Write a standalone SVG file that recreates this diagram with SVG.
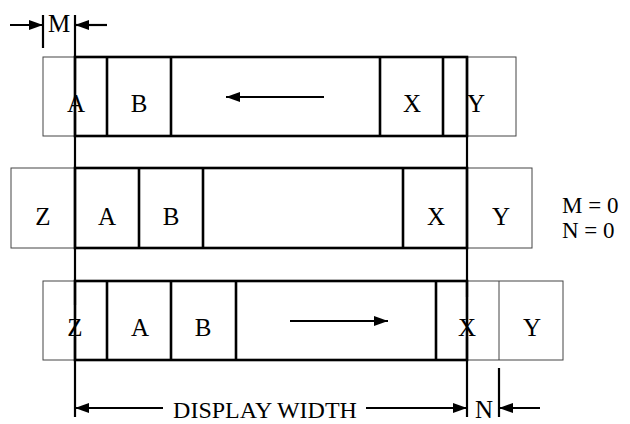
<svg xmlns="http://www.w3.org/2000/svg" width="630" height="424" viewBox="0 0 630 424">
<defs>
<style>
.thin{fill:none;stroke:#444;stroke-width:1}
.thick{fill:none;stroke:#000;stroke-width:2.6}
.ln{fill:none;stroke:#000;stroke-width:2.2}
.t{font-family:"Liberation Serif","Times New Roman",serif;font-size:25px;fill:#000;text-anchor:middle}
.ts{font-family:"Liberation Serif","Times New Roman",serif;font-size:23px;fill:#000}
</style>
<marker id="ah" viewBox="0 0 14 10" refX="14" refY="5" markerWidth="14" markerHeight="10" markerUnits="userSpaceOnUse" orient="auto">
<path d="M0,0 L14,5 L0,10 z" fill="#000"/>
</marker>
</defs>
<rect width="630" height="424" fill="#fff"/>

<g id="row1">
<rect class="thin" x="43" y="57" width="473" height="79"/>
<rect class="thick" x="75" y="57" width="392" height="79"/>
<line class="thick" x1="107" y1="57" x2="107" y2="136"/>
<line class="thick" x1="171" y1="57" x2="171" y2="136"/>
<line class="thick" x1="380" y1="57" x2="380" y2="136"/>
<line class="thick" x1="443" y1="57" x2="443" y2="136"/>
<text class="t" x="76" y="112">A</text>
<text class="t" x="139" y="112">B</text>
<text class="t" x="412" y="112">X</text>
<text class="t" x="476" y="112">Y</text>
</g>

<g id="row2">
<rect class="thin" x="11" y="168" width="521" height="80"/>
<rect class="thick" x="75" y="168" width="392" height="80"/>
<line class="thick" x1="139" y1="168" x2="139" y2="248"/>
<line class="thick" x1="203" y1="168" x2="203" y2="248"/>
<line class="thick" x1="403" y1="168" x2="403" y2="248"/>
<text class="t" x="43" y="225">Z</text>
<text class="t" x="107" y="225">A</text>
<text class="t" x="171" y="225">B</text>
<text class="t" x="436" y="225">X</text>
<text class="t" x="501" y="225">Y</text>
</g>

<g id="row3">
<rect class="thin" x="43" y="281" width="520" height="79"/>
<rect class="thick" x="75" y="281" width="392" height="79"/>
<line class="thin" x1="499" y1="281" x2="499" y2="360"/>
<line class="thick" x1="107" y1="281" x2="107" y2="360"/>
<line class="thick" x1="171" y1="281" x2="171" y2="360"/>
<line class="thick" x1="236" y1="281" x2="236" y2="360"/>
<line class="thick" x1="436" y1="281" x2="436" y2="360"/>
<text class="t" x="75" y="336">Z</text>
<text class="t" x="140" y="336">A</text>
<text class="t" x="203" y="336">B</text>
<text class="t" x="467" y="336">X</text>
<text class="t" x="532" y="336">Y</text>
</g>

<g id="note">
<text class="ts" x="562" y="213">M = 0</text>
<text class="ts" x="562" y="238">N = 0</text>
</g>

<g id="dimM">
<text class="t" x="59" y="32">M</text>
</g>

<g id="dimWidth">
<text class="t" x="265" y="418" style="font-size:24px">DISPLAY WIDTH</text>
<text class="t" x="484" y="418">N</text>
</g>

<g id="connectors">
<line class="ln" x1="43" y1="15" x2="43" y2="48"/>
<line class="ln" x1="75" y1="15" x2="75" y2="80"/>
<line class="ln" x1="75" y1="112" x2="75" y2="305"/>
<line class="ln" x1="75" y1="337" x2="75" y2="417"/>
<line class="ln" x1="467" y1="57" x2="467" y2="297"/>
<line class="ln" x1="467" y1="337" x2="467" y2="417"/>
<line class="ln" x1="499" y1="368" x2="499" y2="417"/>
<line class="ln" x1="10" y1="25" x2="43" y2="25" marker-end="url(#ah)"/>
<line class="ln" x1="107" y1="25" x2="75" y2="25" marker-end="url(#ah)"/>
<line class="ln" x1="163" y1="408" x2="75" y2="408" marker-end="url(#ah)"/>
<line class="ln" x1="366" y1="408" x2="467" y2="408" marker-end="url(#ah)"/>
<line class="ln" x1="540" y1="408" x2="499" y2="408" marker-end="url(#ah)"/>
<line class="ln" x1="324" y1="97" x2="226" y2="97" marker-end="url(#ah)"/>
<line class="ln" x1="290" y1="321" x2="388" y2="321" marker-end="url(#ah)"/>
</g>
</svg>
